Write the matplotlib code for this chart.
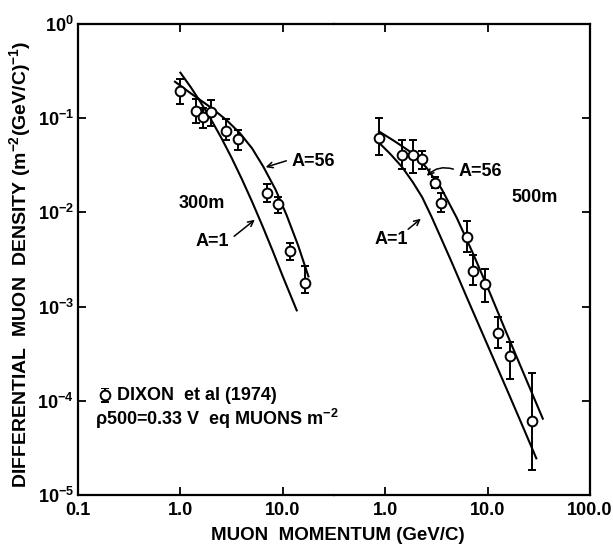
import matplotlib
matplotlib.use("Agg")
import matplotlib.pyplot as plt
from matplotlib.patches import FancyArrowPatch
import numpy as np

plt.rcParams['font.family'] = ['Liberation Sans', 'DejaVu Sans']
plt.rcParams['font.weight'] = 'bold'
plt.rcParams['mathtext.default'] = 'regular'

# ---- data: 300 m depth (left panel) ----
p300 = [1.0, 1.42, 1.66, 1.99, 2.79, 3.65, 7.0, 8.97, 11.7, 16.5]
d300 = [0.194, 0.119, 0.103, 0.116, 0.073, 0.060, 0.016, 0.0123, 0.0039, 0.00178]
d300_hi = [0.26, 0.16, 0.128, 0.156, 0.098, 0.075, 0.020, 0.0145, 0.0047, 0.0027]
d300_lo = [0.14, 0.089, 0.079, 0.083, 0.059, 0.046, 0.0129, 0.0098, 0.0031, 0.0014]

c300_a1_p = [1.0, 1.26, 1.585, 1.995, 2.512, 3.162, 3.98, 5.01, 6.31, 7.94, 10.0, 13.68]
c300_a1_d = [0.304, 0.214, 0.146, 0.0966, 0.0617, 0.038, 0.0226, 0.0130, 0.00724,
             0.00394, 0.00209, 0.000912]
c300_a56_p = [0.885, 1.26, 2.0, 2.82, 3.82, 5.01, 6.46, 8.51, 10.9, 14.1, 17.8]
c300_a56_d = [0.244, 0.184, 0.129, 0.0955, 0.0692, 0.0479, 0.0305, 0.0174, 0.00933,
              0.00447, 0.00209]

# ---- data: 500 m depth (right panel) ----
p500 = [0.87, 1.47, 1.86, 2.3, 3.05, 3.52, 6.35, 7.22, 9.4, 12.7, 16.7, 27.2]
d500 = [0.061, 0.041, 0.041, 0.0366, 0.0204, 0.0127, 0.0055, 0.0024, 0.00173, 0.00053,
        0.00030, 0.000061]
d500_hi = [0.0997, 0.059, 0.059, 0.045, 0.024, 0.016, 0.0082, 0.0035, 0.0025, 0.00077,
           0.00042, 0.000196]
d500_lo = [0.041, 0.029, 0.026, 0.029, 0.018, 0.010, 0.0038, 0.0017, 0.00113, 0.00036,
           0.000169, 0.0000184]

c500_a1_p = [0.851, 1.122, 1.466, 1.862, 2.296, 2.818, 3.467, 4.467, 6.31, 10.0, 15.85,
             22.4, 29.9]
c500_a1_d = [0.0562, 0.0417, 0.0302, 0.0209, 0.0145, 0.00912, 0.0055, 0.00295, 0.00123,
             0.000389, 0.000123, 0.0000513, 0.0000245]
c500_a56_p = [0.869, 1.26, 1.83, 2.51, 3.55, 5.01, 7.23, 10.3, 14.9, 21.7, 34.6]
c500_a56_d = [0.0724, 0.0562, 0.0427, 0.0302, 0.0178, 0.00871, 0.00363, 0.00148,
              0.000562, 0.000214, 0.0000646]

left_ticks = [0.1, 1.0, 10.0]
left_ticklabels = ['0.1', '1.0', '10.0']
right_ticks = [1.0, 10.0, 100.0]
right_ticklabels = ['1.0', '10.0', '100.0']
y_ticks = [1e-5, 1e-4, 1e-3, 1e-2, 1e-1, 1e0]
y_ticklabels = ['$10^{-5}$', '$10^{-4}$', '$10^{-3}$', '$10^{-2}$', '$10^{-1}$', '$10^{0}$']

W, H = 613, 550
fig = plt.figure(figsize=(W / 100, H / 100), dpi=100)

L, R, T, B = 78, 590, 24, 495
MID = (L + R) / 2
axL = fig.add_axes([L / W, 1 - B / H, (MID - L) / W, (B - T) / H])
axR = fig.add_axes([MID / W, 1 - B / H, (R - MID) / W, (B - T) / H])

for ax in (axL, axR):
    ax.set_xscale('log')
    ax.set_yscale('log')
    ax.set_ylim(1e-5, 1.0)
    ax.tick_params(direction='in', length=6, width=1.3, top=True, labelsize=13, pad=5)
    for s in ax.spines.values():
        s.set_linewidth(1.6)

axL.set_xlim(0.1, 10 ** 1.5)
axR.set_xlim(10 ** -0.5, 100)
axL.spines['right'].set_visible(False)
axR.spines['left'].set_visible(False)

axL.set_xticks(left_ticks)
axL.set_xticklabels(left_ticklabels)
axR.set_xticks(right_ticks)
axR.set_xticklabels(right_ticklabels)
axL.set_yticks(y_ticks)
axL.set_yticklabels(y_ticklabels)
axL.tick_params(axis='y', left=True, right=False, pad=3)
axR.set_yticks(y_ticks)
axR.tick_params(axis='y', left=False, right=True, labelleft=False, labelright=False)
axL.minorticks_off()
axR.minorticks_off()

lw = 1.5
axL.plot(c300_a1_p, c300_a1_d, color='black', lw=lw)
axL.plot(c300_a56_p, c300_a56_d, color='black', lw=lw)
axR.plot(c500_a1_p, c500_a1_d, color='black', lw=lw)
axR.plot(c500_a56_p, c500_a56_d, color='black', lw=lw)


def errbar(ax, p, d, hi, lo):
    d = np.array(d); hi = np.array(hi); lo = np.array(lo)
    ax.errorbar(p, d, yerr=[d - lo, hi - d], fmt='o', mfc='white', mec='black',
                ms=7, mew=1.4, ecolor='black', elinewidth=1.4, capsize=3.2,
                capthick=1.4, color='black', zorder=3)


errbar(axL, p300, d300, d300_hi, d300_lo)
errbar(axR, p500, d500, d500_hi, d500_lo)


def fx(x, y):
    return (x / W, 1 - y / H)


fs = 13
fig.text(*fx(179, 203), '300m', fontsize=fs, va='center', ha='left')
fig.text(*fx(511, 198), '500m', fontsize=fs, va='center', ha='left')
fig.text(*fx(292, 162), 'A=56', fontsize=fs, va='center', ha='left')
fig.text(*fx(196, 242), 'A=1', fontsize=fs, va='center', ha='left')
fig.text(*fx(459, 172), 'A=56', fontsize=fs, va='center', ha='left')
fig.text(*fx(375, 240), 'A=1', fontsize=fs, va='center', ha='left')


def arr(a, b, cs='arc3'):
    fig.add_artist(FancyArrowPatch(fx(*a), fx(*b), transform=fig.transFigure,
                                   arrowstyle='->', mutation_scale=10, lw=1.1,
                                   color='black', connectionstyle=cs))


arr((289, 160), (263, 168))
arr((232, 238), (257, 218))
arr((456, 170), (425, 178), 'arc3,rad=0.35')
arr((406, 231), (423, 217))

# legend-like annotation
legend_ax = fig.add_axes([95 / W, 1 - 402 / H, 20 / W, 14 / H])
legend_ax.set_axis_off()
legend_ax.set_xlim(0, 1)
legend_ax.set_ylim(0, 1)
legend_ax.errorbar([0.5], [0.5], yerr=[[0.5], [0.5]], fmt='o', mfc='white', mec='black',
                   ms=7, mew=1.4, ecolor='black', elinewidth=1.4, capsize=3.2, capthick=1.4)
fig.text(*fx(117, 396), 'DIXON  et al (1974)', fontsize=fs, va='center', ha='left')
fig.text(*fx(95, 419), r'$\rho$500=0.33 V  eq MUONS m$^{-2}$', fontsize=fs,
         va='center', ha='left')

fig.text(*fx(338, 536), 'MUON  MOMENTUM (GeV/C)', fontsize=13.5, va='center', ha='center')
fig.text(*fx(20, 264), 'DIFFERENTIAL  MUON  DENSITY (m$^{-2}$(GeV/C)$^{-1}$)',
         fontsize=14, va='center', ha='center', rotation=90)

fig.savefig('out.png', dpi=100)
